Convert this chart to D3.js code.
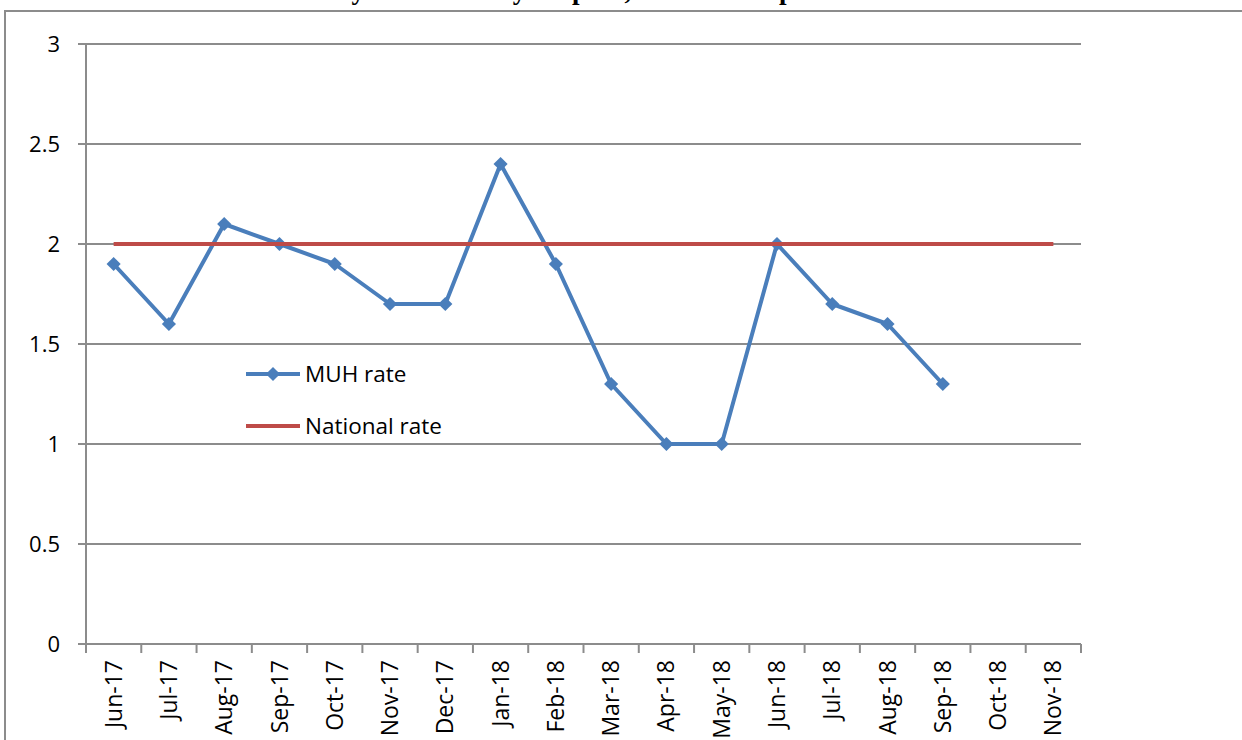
<!DOCTYPE html>
<html><head><meta charset="utf-8">
<script src="https://cdn.jsdelivr.net/npm/d3@7"></script>
<style>
html,body{margin:0;padding:0;background:#fff;overflow:hidden;}
svg{display:block;}
</style></head>
<body>
<svg id="chart" width="1242" height="740"></svg>
<script>
const categories = ["Jun-17","Jul-17","Aug-17","Sep-17","Oct-17","Nov-17","Dec-17","Jan-18","Feb-18","Mar-18","Apr-18","May-18","Jun-18","Jul-18","Aug-18","Sep-18","Oct-18","Nov-18"];
const muhRate = [1.9,1.6,2.1,2.0,1.9,1.7,1.7,2.4,1.9,1.3,1.0,1.0,2.0,1.7,1.6,1.3,null,null];
const nationalRate = [2,2,2,2,2,2,2,2,2,2,2,2,2,2,2,2,2,2];
const yTicks = [0,0.5,1,1.5,2,2.5,3];
const yTickLabels = ["0","0.5","1","1.5","2","2.5","3"];
const seriesNames = ["MUH rate","National rate"];
const titleText = "Monthly MUH rate by hospital, and the comparison with national rate";

(function(){
const svg = d3.select("#chart");
const font = "'Open Sans', sans-serif";
const pLeft = 86, pRight = 1081, pTop = 44, pBottom = 644;
const blue = "#4a7ebb", red = "#be4b48", grid = "#8c8c8c";

svg.append("rect").attr("x",5).attr("y",11).attr("width",1260).attr("height",760)
  .attr("fill","none").attr("stroke","#8c8c8c").attr("stroke-width",2);

svg.append("text").attr("x",266).attr("y",-1).attr("text-anchor","start")
  .attr("font-family","'Liberation Serif', 'Times New Roman', serif").attr("font-weight","bold")
  .attr("font-size",27).attr("fill","#000").text(titleText);

const x = d3.scaleBand().domain(categories).range([pLeft,pRight]).paddingInner(0).paddingOuter(0);
const y = d3.scaleLinear().domain([0,3]).range([pBottom,pTop]);

svg.append("g").selectAll("line").data(yTicks).join("line")
  .attr("x1",pLeft-8).attr("x2",pRight).attr("y1",d=>y(d)).attr("y2",d=>y(d))
  .attr("stroke",grid).attr("stroke-width",2);

svg.append("line").attr("x1",pLeft).attr("x2",pLeft).attr("y1",pTop).attr("y2",pBottom)
  .attr("stroke",grid).attr("stroke-width",2);

svg.append("g").selectAll("text").data(yTicks).join("text")
  .attr("x",60).attr("y",d=>y(d)).attr("dy","0.35em").attr("text-anchor","end")
  .attr("font-family",font).attr("font-size",22).attr("fill","#000")
  .text((d,i)=>yTickLabels[i]);

const boundaries = categories.map(c=>x(c)).concat([pRight]);
svg.append("g").selectAll("line").data(boundaries).join("line")
  .attr("x1",d=>d).attr("x2",d=>d).attr("y1",pBottom).attr("y2",pBottom+9)
  .attr("stroke",grid).attr("stroke-width",2);

svg.append("g").selectAll("text").data(categories).join("text")
  .attr("transform",d=>`translate(${x(d)+x.bandwidth()/2},${pBottom+16}) rotate(-90)`)
  .attr("text-anchor","end").attr("dy","0.35em")
  .attr("font-family",font).attr("font-size",23).attr("fill","#000").text(d=>d);

const cx = d=>x(d)+x.bandwidth()/2;
const muhData = categories.map((c,i)=>({c,v:muhRate[i]}));
const natData = categories.map((c,i)=>({c,v:nationalRate[i]}));

const line = d3.line().defined(d=>d.v!=null).x(d=>cx(d.c)).y(d=>y(d.v));

svg.append("path").datum(muhData).attr("d",line).attr("fill","none")
  .attr("stroke",blue).attr("stroke-width",4).attr("stroke-linejoin","round");

svg.append("g").selectAll("path").data(muhData.filter(d=>d.v!=null)).join("path")
  .attr("transform",d=>`translate(${cx(d.c)},${y(d.v)}) rotate(45)`)
  .attr("d",d3.symbol().type(d3.symbolSquare).size(100)).attr("fill",blue);

svg.append("path").datum(natData).attr("d",line).attr("fill","none")
  .attr("stroke",red).attr("stroke-width",4);

const lg = svg.append("g");
lg.append("line").attr("x1",246).attr("x2",300).attr("y1",374).attr("y2",374)
  .attr("stroke",blue).attr("stroke-width",4);
lg.append("path").attr("transform","translate(273,374) rotate(45)")
  .attr("d",d3.symbol().type(d3.symbolSquare).size(100)).attr("fill",blue);
lg.append("text").attr("x",305).attr("y",374).attr("dy","0.35em")
  .attr("font-family",font).attr("font-size",22.5).attr("fill","#000").text(seriesNames[0]);
lg.append("line").attr("x1",246).attr("x2",300).attr("y1",426).attr("y2",426)
  .attr("stroke",red).attr("stroke-width",4);
lg.append("text").attr("x",305).attr("y",426).attr("dy","0.35em")
  .attr("font-family",font).attr("font-size",22.5).attr("fill","#000").text(seriesNames[1]);
})();
</script>
</body></html>
